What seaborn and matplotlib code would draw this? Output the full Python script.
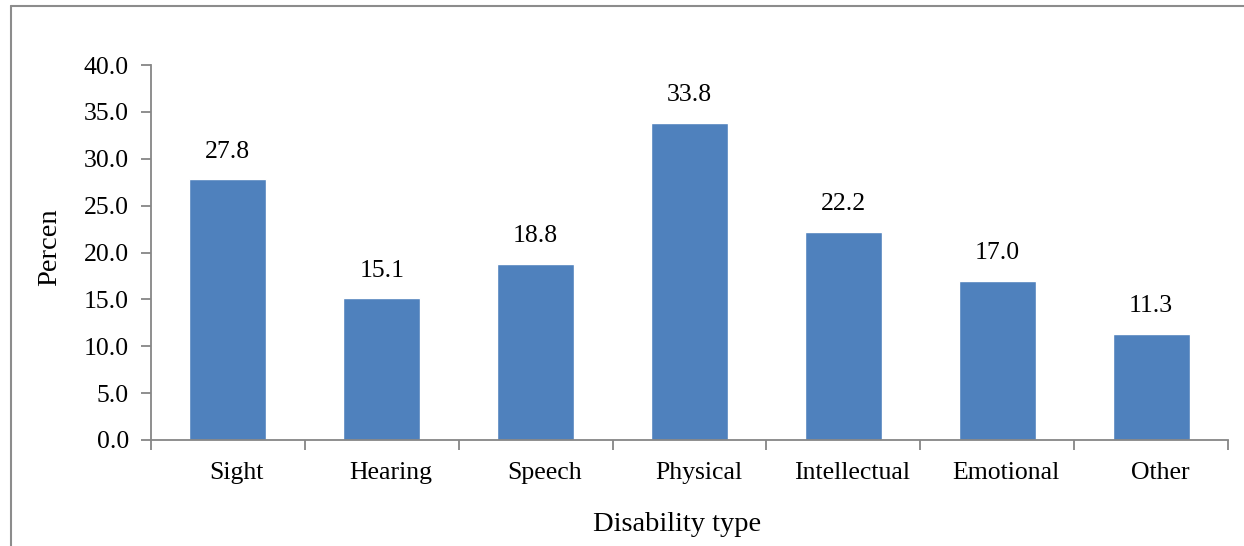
import matplotlib
matplotlib.use("Agg")
import matplotlib.pyplot as plt
from matplotlib.lines import Line2D
from matplotlib.ticker import FixedLocator, FormatStrFormatter
from matplotlib.transforms import ScaledTranslation
import seaborn as sns
import pandas as pd

categories = ["Sight", "Hearing", "Speech", "Physical", "Intellectual", "Emotional", "Other"]
percent = [27.8, 15.1, 18.8, 33.8, 22.2, 17.0, 11.3]
y_ticks = [0, 5, 10, 15, 20, 25, 30, 35, 40]

sns.set_theme(style="white")
plt.rcParams["font.family"] = ["Liberation Serif", "DejaVu Serif"]

bar_color = "#4F81BD"
axis_gray = "#868686"
text_size = 18.5
label_size = 20.5

df = pd.DataFrame({"type": categories, "pct": percent})

fig = plt.figure(figsize=(12.44, 5.46), dpi=100)
ax = fig.add_axes([151 / 1244, 1 - 440 / 546, (1228 - 151) / 1244, (440 - 65) / 546])

sns.barplot(data=df, x="type", y="pct", color=bar_color, saturation=1,
            width=0.5, ax=ax)

ax.set_xlim(-0.5, len(categories) - 0.5)
ax.set_ylim(0, 40)
ax.set_yticks(y_ticks)
ax.yaxis.set_major_formatter(FormatStrFormatter("%.1f"))

# category boundaries carry the x tick marks
ax.xaxis.set_minor_locator(FixedLocator([i - 0.5 for i in range(len(categories) + 1)]))
ax.tick_params(axis="x", which="major", length=0, pad=16, labelsize=text_size, colors="black")
ax.tick_params(axis="x", which="minor", length=7, width=1.3, color=axis_gray, bottom=True)
ax.tick_params(axis="y", which="major", length=7, width=1.3, color=axis_gray,
               left=True, pad=9, labelsize=text_size, labelcolor="black")

# category names sit slightly right of the bar centres
shift = ScaledTranslation(9 / 100, 0, fig.dpi_scale_trans)
for lbl in ax.get_xticklabels():
    lbl.set_transform(lbl.get_transform() + shift)

for side in ["top", "right"]:
    ax.spines[side].set_visible(False)
for side in ["left", "bottom"]:
    ax.spines[side].set_color(axis_gray)
    ax.spines[side].set_linewidth(1.3)

for i, v in enumerate(percent):
    ax.annotate(f"{v:.1f}", xy=(i, v), xytext=(0, 20), textcoords="offset points",
                ha="center", va="center", fontsize=text_size, color="black")

ax.set_xlabel("Disability type", fontsize=label_size, labelpad=20, color="black")
ax.set_ylabel("Percen", fontsize=label_size, labelpad=15.5, color="black")
ax.xaxis.label.set_x(0.488)
ax.yaxis.label.set_y(0.513)

# outer chart frame (left and top edges)
fig.add_artist(Line2D([10.5 / 1244, 10.5 / 1244], [0, 1 - 6 / 546],
                      transform=fig.transFigure, color="#8c8c8c", lw=1.5))
fig.add_artist(Line2D([10.5 / 1244, 1], [1 - 6 / 546, 1 - 6 / 546],
                      transform=fig.transFigure, color="#8c8c8c", lw=1.5))

fig.savefig("out.png", dpi=100, facecolor="white")
